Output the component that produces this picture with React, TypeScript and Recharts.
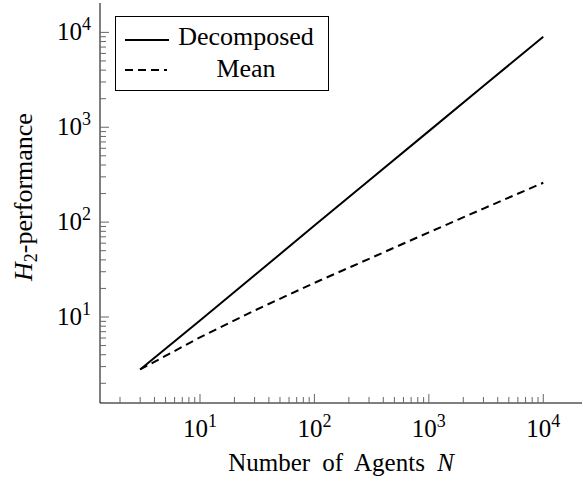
import { LineChart, Line, XAxis, YAxis, Legend } from "recharts";

// values (log-log)
const agents = [3, 10, 30, 100, 300, 1000, 3000, 10000];
const decomposed = [2.8, 9.2, 27.5, 92, 275, 910, 2720, 9000];
const mean = [2.8, 6.1, 11.7, 22.9, 41, 78, 139, 260];

const seriesNames = ["Decomposed", "Mean"];

const majorTicks = [10, 100, 1000, 10000];
const minorTicks = [
  2, 3, 4, 5, 6, 7, 8, 9,
  20, 30, 40, 50, 60, 70, 80, 90,
  200, 300, 400, 500, 600, 700, 800, 900,
  2000, 3000, 4000, 5000, 6000, 7000, 8000, 9000,
];
const allTicks = [...minorTicks, ...majorTicks].sort((a, b) => a - b);

const data = agents.map((n, i) => ({ n, decomposed: decomposed[i], mean: mean[i] }));

const FONT = "Liberation Serif, Times New Roman, DejaVu Serif, serif";
const TICK_COLOR = "#666";
const txt = (size: number) => ({ fontFamily: FONT, fontSize: size });

const expOf = (v: number) => Math.round(Math.log10(v));

const TickLabel = ({ value, x, y, anchor }: any) => (
  <text x={x} y={y} textAnchor={anchor} style={txt(25)} fill="#000">
    10
    <tspan style={{ fontSize: 18 }} dy={-10}>
      {expOf(value)}
    </tspan>
  </text>
);

const XTick = (props: any) => {
  const { x, y, payload, side } = props;
  const major = majorTicks.includes(payload.value);
  const len = major ? 9 : 6;
  const dir = side === "top" ? 1 : -1;
  return (
    <g>
      <line x1={x} y1={y} x2={x} y2={y + dir * len} stroke={TICK_COLOR} strokeWidth={1} />
      {major && side !== "top" && <TickLabel value={payload.value} x={x} y={y + 34} anchor="middle" />}
    </g>
  );
};

const YTick = (props: any) => {
  const { x, y, payload, side } = props;
  const major = majorTicks.includes(payload.value);
  const len = major ? 9 : 6;
  const dir = side === "right" ? -1 : 1;
  return (
    <g>
      <line x1={x} y1={y} x2={x + dir * len} y2={y} stroke={TICK_COLOR} strokeWidth={1} />
      {major && side !== "right" && <TickLabel value={payload.value} x={x - 9} y={y + 8} anchor="end" />}
    </g>
  );
};

const XLabel = ({ viewBox }: any) => (
  <text
    x={viewBox.x + viewBox.width / 2}
    y={viewBox.y + 68}
    textAnchor="middle"
    style={{ ...txt(25), wordSpacing: 6 }}
    fill="#000"
  >
    Number of Agents <tspan fontStyle="italic">N</tspan>
  </text>
);

const YLabel = ({ viewBox }: any) => {
  const cx = viewBox.x + 32;
  const cy = viewBox.y + viewBox.height / 2 - 6;
  return (
    <text
      x={cx}
      y={cy}
      transform={`rotate(-90 ${cx} ${cy})`}
      textAnchor="middle"
      style={txt(26)}
      fill="#000"
    >
      <tspan fontStyle="italic">H</tspan>
      <tspan style={{ fontSize: 18 }} dy={5}>2</tspan>
      <tspan dy={-5}>-performance</tspan>
    </text>
  );
};

const LegendBox = () => (
  <svg width={214} height={75} style={{ display: "block" }}>
    <rect x={0.5} y={0.5} width={213} height={74} fill="#fff" stroke="#000" strokeWidth={1} />
    <line x1={10} y1={24} x2={54} y2={24} stroke="#000" strokeWidth={2} />
    <text x={131} y={29} textAnchor="middle" style={txt(26)} fill="#000">
      {seriesNames[0]}
    </text>
    <line x1={10} y1={54} x2={52} y2={54} stroke="#000" strokeWidth={2} strokeDasharray="8 5" />
    <text x={131} y={61} textAnchor="middle" style={txt(26)} fill="#000">
      {seriesNames[1]}
    </text>
  </svg>
);

export default function App() {
  return (
    <div style={{ position: "absolute", left: 0, top: 0, background: "#fff" }}>
      <LineChart width={583} height={483} data={data} margin={{ top: 3, right: 1, bottom: 0, left: 0 }}>
        <XAxis
          xAxisId={0}
          dataKey="n"
          type="number"
          scale="log"
          domain={[1.337, 21800]}
          allowDataOverflow
          ticks={allTicks}
          interval={0}
          height={80}
          tickSize={0}
          tickMargin={0}
          tickLine={false}
          axisLine={{ stroke: "#000", strokeWidth: 1 }}
          tick={<XTick side="bottom" />}
          label={<XLabel />}
        />
        <XAxis
          xAxisId="top"
          orientation="top"
          dataKey="n"
          type="number"
          scale="log"
          domain={[1.337, 21800]}
          allowDataOverflow
          ticks={allTicks}
          interval={0}
          height={0}
          tickSize={0}
          tickMargin={0}
          tickLine={false}
          axisLine={{ stroke: "#000", strokeWidth: 1 }}
          tick={<XTick side="top" />}
        />
        <YAxis
          yAxisId={0}
          type="number"
          scale="log"
          domain={[1.24, 20400]}
          allowDataOverflow
          ticks={allTicks}
          interval={0}
          width={100}
          tickSize={0}
          tickMargin={0}
          tickLine={false}
          axisLine={{ stroke: "#000", strokeWidth: 1 }}
          tick={<YTick side="left" />}
          label={<YLabel />}
        />
        <YAxis
          yAxisId="right"
          orientation="right"
          type="number"
          scale="log"
          domain={[1.24, 20400]}
          allowDataOverflow
          ticks={allTicks}
          interval={0}
          width={0}
          tickSize={0}
          tickMargin={0}
          tickLine={false}
          axisLine={{ stroke: "#000", strokeWidth: 1 }}
          tick={<YTick side="right" />}
        />
        <Legend
          layout="vertical"
          verticalAlign="middle"
          align="center"
          content={<LegendBox />}
          wrapperStyle={{ left: 115, top: 16, width: 214, height: 75 }}
        />
        <Line
          name={seriesNames[0]}
          dataKey="decomposed"
          stroke="#000"
          strokeWidth={2}
          dot={false}
          isAnimationActive={false}
        />
        <Line
          name={seriesNames[1]}
          dataKey="mean"
          stroke="#000"
          strokeWidth={2}
          strokeDasharray="8 5"
          dot={false}
          isAnimationActive={false}
        />
      </LineChart>
    </div>
  );
}
